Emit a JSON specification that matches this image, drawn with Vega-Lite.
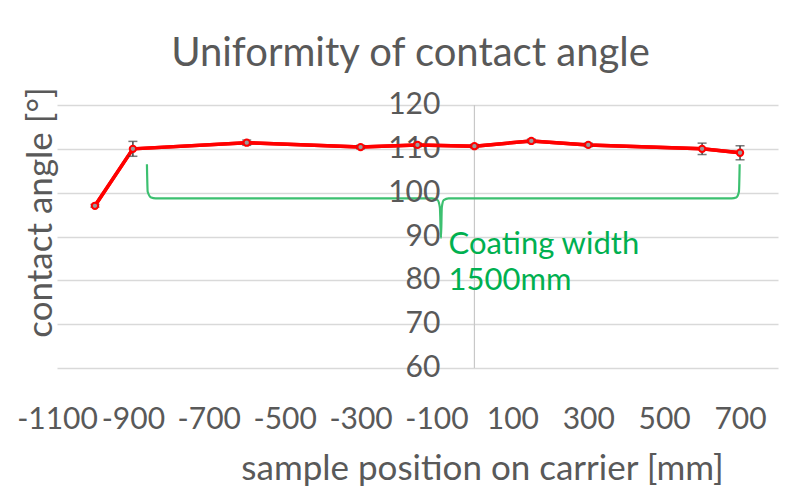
{
  "$schema": "https://vega.github.io/schema/vega-lite/v6.json",
  "width": 721,
  "height": 263,
  "autosize": {"type": "none"},
  "padding": {"left": 57, "top": 105, "right": 30, "bottom": 134},
  "background": "#ffffff",
  "config": {"font": "Lato", "view": {"stroke": null}},
  "title": {
    "text": "Uniformity of contact angle",
    "fontSize": 40,
    "fontWeight": "normal",
    "color": "#595959",
    "anchor": "middle",
    "dx": -7,
    "baseline": "alphabetic",
    "offset": -19
  },
  "datasets": {
    "pts": [
      {"x": -1000, "y": 97.0, "lo": 96.7, "hi": 97.3},
      {"x": -900, "y": 110.0, "lo": 108.3, "hi": 111.7},
      {"x": -600, "y": 111.4, "lo": 110.8, "hi": 112.0},
      {"x": -300, "y": 110.4, "lo": 110.0, "hi": 110.8},
      {"x": -150, "y": 110.9, "lo": 110.5, "hi": 111.3},
      {"x": 0, "y": 110.6, "lo": 110.2, "hi": 111.0},
      {"x": 150, "y": 111.8, "lo": 111.4, "hi": 112.2},
      {"x": 300, "y": 110.9, "lo": 110.5, "hi": 111.3},
      {"x": 600, "y": 110.0, "lo": 108.7, "hi": 111.3},
      {"x": 700, "y": 109.1, "lo": 107.5, "hi": 110.7}
    ],
    "brace": [
      {"i": 0, "x": -863, "y": 106.5},
      {"i": 1, "x": -861, "y": 100.2},
      {"i": 2, "x": -852, "y": 98.9},
      {"i": 3, "x": -840, "y": 98.7},
      {"i": 4, "x": -112, "y": 98.7},
      {"i": 5, "x": -97, "y": 98.3},
      {"i": 6, "x": -91, "y": 96.6},
      {"i": 7, "x": -88, "y": 89.7},
      {"i": 8, "x": -86, "y": 96.6},
      {"i": 9, "x": -81, "y": 98.3},
      {"i": 10, "x": -68, "y": 98.7},
      {"i": 11, "x": 678, "y": 98.7},
      {"i": 12, "x": 690, "y": 98.9},
      {"i": 13, "x": 697, "y": 100.2},
      {"i": 14, "x": 699, "y": 106.5}
    ],
    "ylab": [
      {"y": 60}, {"y": 70}, {"y": 80}, {"y": 90}, {"y": 100}, {"y": 110}, {"y": 120}
    ],
    "note": [
      {"x": -68, "y": 88.1, "t": ["Coating width", "1500mm"]}
    ]
  },
  "layer": [
    {
      "data": {"name": "pts"},
      "mark": {"type": "line", "color": "#ff0000", "strokeWidth": 3.5},
      "encoding": {
        "x": {
          "field": "x",
          "type": "quantitative",
          "scale": {"domain": [-1100, 800], "nice": false, "zero": false},
          "axis": {
            "title": "sample position on carrier [mm]",
            "titleFontSize": 35,
            "titleFontWeight": "normal",
            "titleColor": "#595959",
            "titleX": 425,
            "titleY": 111,
            "titleAlign": "center",
            "titleBaseline": "alphabetic",
            "values": [-1100, -900, -700, -500, -300, -100, 100, 300, 500, 700],
            "format": "d",
            "labelExpr": "replace(datum.label, '−', '-')",
            "labelFontSize": 30,
            "labelColor": "#595959",
            "labelPadding": 36,
            "labelFlush": false,
            "labelOverlap": false,
            "ticks": false,
            "domain": false,
            "grid": false
          }
        },
        "y": {
          "field": "y",
          "type": "quantitative",
          "scale": {"domain": [60, 120], "nice": false, "zero": false},
          "axis": {
            "title": "contact angle [°]",
            "titleFontSize": 35,
            "titleFontWeight": "normal",
            "titleColor": "#595959",
            "titleAngle": -90,
            "titleX": -17,
            "titleY": 107,
            "titleAlign": "center",
            "titleBaseline": "middle",
            "values": [60, 70, 80, 90, 100, 110, 120],
            "labels": false,
            "ticks": false,
            "domain": false,
            "grid": true,
            "gridColor": "#d9d9d9",
            "gridWidth": 1.5
          }
        }
      }
    },
    {
      "data": {"values": [{"v": 0}]},
      "mark": {"type": "rule", "color": "#c8c8c8", "strokeWidth": 1.2},
      "encoding": {"x": {"field": "v", "type": "quantitative"}}
    },
    {
      "data": {"name": "brace"},
      "mark": {"type": "line", "color": "#3cc070", "strokeWidth": 2.2, "interpolate": "monotone"},
      "encoding": {
        "x": {"field": "x", "type": "quantitative"},
        "y": {"field": "y", "type": "quantitative"},
        "order": {"field": "i", "type": "quantitative"}
      }
    },
    {
      "data": {"name": "ylab"},
      "mark": {"type": "text", "align": "right", "baseline": "middle", "dx": -34, "fontSize": 30, "color": "#595959"},
      "encoding": {
        "x": {"datum": 0, "type": "quantitative"},
        "y": {"field": "y", "type": "quantitative"},
        "text": {"field": "y", "type": "quantitative"}
      }
    },
    {
      "data": {"name": "pts"},
      "mark": {"type": "line", "color": "#ff0000", "strokeWidth": 3.5},
      "encoding": {
        "x": {"field": "x", "type": "quantitative"},
        "y": {"field": "y", "type": "quantitative"}
      }
    },
    {
      "data": {"name": "pts"},
      "mark": {"type": "rule", "color": "#404040", "strokeWidth": 1.5},
      "encoding": {
        "x": {"field": "x", "type": "quantitative"},
        "y": {"field": "lo", "type": "quantitative"},
        "y2": {"field": "hi"}
      }
    },
    {
      "data": {"name": "pts"},
      "mark": {"type": "tick", "orient": "horizontal", "color": "#404040", "size": 9, "thickness": 1.5},
      "encoding": {
        "x": {"field": "x", "type": "quantitative"},
        "y": {"field": "lo", "type": "quantitative"}
      }
    },
    {
      "data": {"name": "pts"},
      "mark": {"type": "tick", "orient": "horizontal", "color": "#404040", "size": 9, "thickness": 1.5},
      "encoding": {
        "x": {"field": "x", "type": "quantitative"},
        "y": {"field": "hi", "type": "quantitative"}
      }
    },
    {
      "data": {"name": "pts"},
      "mark": {"type": "point", "filled": false, "fill": "#9a9a9a", "fillOpacity": 1, "stroke": "#ff0000", "strokeWidth": 2, "size": 40, "opacity": 1},
      "encoding": {
        "x": {"field": "x", "type": "quantitative"},
        "y": {"field": "y", "type": "quantitative"}
      }
    },
    {
      "data": {"name": "note"},
      "mark": {"type": "text", "align": "left", "baseline": "middle", "fontSize": 31, "lineHeight": 36, "color": "#00b050"},
      "encoding": {
        "x": {"field": "x", "type": "quantitative"},
        "y": {"field": "y", "type": "quantitative"},
        "text": {"field": "t"}
      }
    }
  ]
}
